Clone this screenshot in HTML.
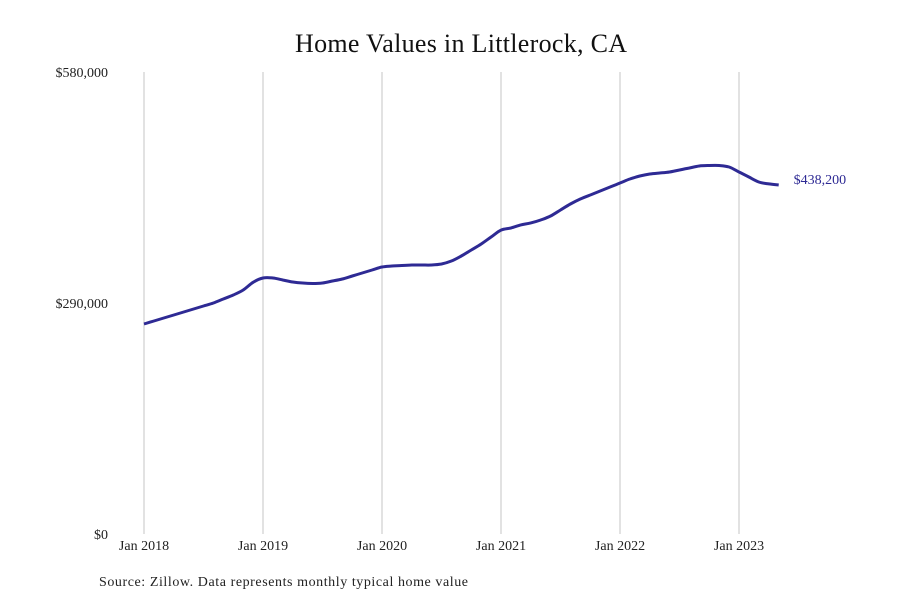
<!DOCTYPE html>
<html><head><meta charset="utf-8">
<style>
body{margin:0;background:#fff;}
svg{display:block;font-family:"Liberation Serif",serif;}
</style></head>
<body>
<svg id="chart" width="900" height="600">
<text x="461" y="52" text-anchor="middle" font-size="26" fill="#111" textLength="332">Home Values in Littlerock, CA</text>
<g id="grid"></g>
<g id="yticks"></g>
<g id="xticks"></g>
<path id="line" fill="none" stroke="#2e2a94" stroke-width="3" stroke-linejoin="round"></path>
<text id="endlabel" font-size="14" fill="#2e2a94"></text>
<text x="99" y="586" font-size="14" fill="#222" textLength="369">Source: Zillow. Data represents monthly typical home value</text>
</svg>
<script>
const yearLabels = ["Jan 2018","Jan 2019","Jan 2020","Jan 2021","Jan 2022","Jan 2023"];
const yTickValues = [0, 290000, 580000];
const yTickLabels = ["$0","$290,000","$580,000"];
const values2018 = [263.6,267.4,271.2,274.9,278.7,282.5,286.2,290,295,300,306.3,316];
const values2019 = [321.4,321.4,318.9,316.4,315.1,314.5,315.1,317.6,320.1,323.9,327.7,331.4];
const values2020 = [335.2,336.4,337.1,337.7,337.7,337.7,339,342.7,349,356.5,364.1,372.9];
const values2021 = [381.5,384.2,388,390.5,394.2,399.2,406.8,414.3,420.6,425.6,430.6,435.6];
const values2022 = [440.6,445.7,449.4,452,453.2,454.5,457,459.5,462,462.6,462.6,460.7];
const values2023 = [454.5,448.2,441.9,439.5,438.2];
const lastLabel = "$438,200";

const values = [].concat(values2018,values2019,values2020,values2021,values2022,values2023).map(v=>v*1000);
const NS = "http://www.w3.org/2000/svg";
const x = m => 144 + m * 119/12;
const y = v => 534 - v/580000*462;

const grid = document.getElementById('grid');
const xt = document.getElementById('xticks');
yearLabels.forEach((lab,i)=>{
  const l = document.createElementNS(NS,'line');
  l.setAttribute('x1',x(i*12)); l.setAttribute('x2',x(i*12));
  l.setAttribute('y1',72); l.setAttribute('y2',534);
  l.setAttribute('stroke','#c4c4c4'); l.setAttribute('stroke-width','1');
  
  
  grid.appendChild(l);
  const t = document.createElementNS(NS,'text');
  t.setAttribute('x',x(i*12)); t.setAttribute('y',550);
  t.setAttribute('text-anchor','middle'); t.setAttribute('font-size','14'); t.setAttribute('fill','#222');
  t.textContent = lab;
  
  
  xt.appendChild(t);
});
const yt = document.getElementById('yticks');
yTickValues.forEach((v,i)=>{
  const t = document.createElementNS(NS,'text');
  t.setAttribute('x',108); t.setAttribute('y',y(v)+5);
  t.setAttribute('text-anchor','end'); t.setAttribute('font-size','14'); t.setAttribute('fill','#222');
  t.textContent = yTickLabels[i];
  
  
  yt.appendChild(t);
});
// smooth path via Catmull-Rom
const pts = values.map((v,i)=>[x(i), y(v)]);
let d = 'M' + pts[0][0].toFixed(1) + ' ' + pts[0][1].toFixed(1);
for (let i=0;i<pts.length-1;i++){
  const p0 = pts[Math.max(i-1,0)], p1 = pts[i], p2 = pts[i+1], p3 = pts[Math.min(i+2,pts.length-1)];
  const c1 = [p1[0]+(p2[0]-p0[0])/6, p1[1]+(p2[1]-p0[1])/6];
  const c2 = [p2[0]-(p3[0]-p1[0])/6, p2[1]-(p3[1]-p1[1])/6];
  d += 'C'+c1[0].toFixed(1)+' '+c1[1].toFixed(1)+' '+c2[0].toFixed(1)+' '+c2[1].toFixed(1)+' '+p2[0].toFixed(1)+' '+p2[1].toFixed(1);
}
document.getElementById('line').setAttribute('d', d);
const el = document.getElementById('endlabel');
const li = values.length-1;
el.setAttribute('x', x(li)+15); el.setAttribute('y', y(values[li])-1);
el.textContent = lastLabel;
</script>
</body></html>
